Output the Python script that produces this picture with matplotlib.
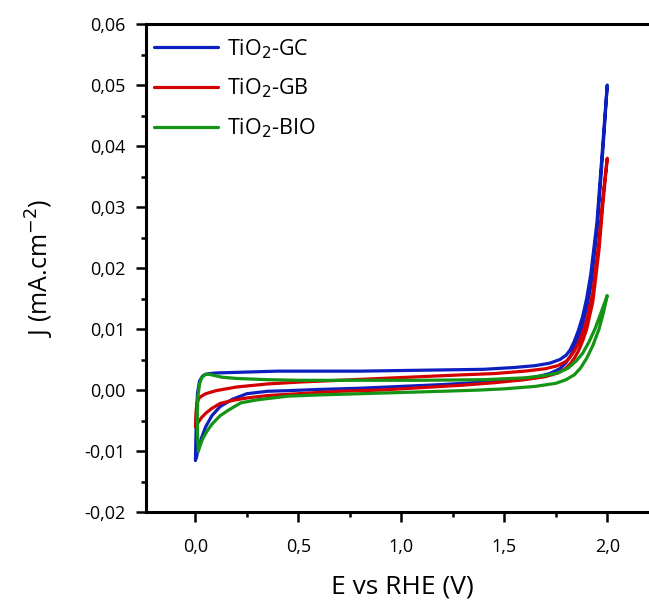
import matplotlib
matplotlib.use('Agg')
import matplotlib.pyplot as plt
from matplotlib.ticker import MultipleLocator, FuncFormatter

plt.rcParams['font.family'] = ['Open Sans', 'DejaVu Sans']

# TiO2-GC (forward scan then return scan)
gc_E_fwd = [0.0, 0.002, 0.005, 0.01, 0.02, 0.035, 0.05, 0.07, 0.1, 0.2, 0.4, 0.6, 0.8, 1.0, 1.2, 1.4,
            1.55, 1.65, 1.72, 1.77, 1.8, 1.82, 1.84, 1.86, 1.88, 1.9, 1.92, 1.95, 1.98, 2.0]
gc_J_fwd = [-0.0115, -0.008, -0.004, -0.0005, 0.0015, 0.0023, 0.0026, 0.0027, 0.0028, 0.0029, 0.0031, 0.0031,
            0.0031, 0.0032, 0.0033, 0.0034, 0.0037, 0.0040, 0.0044, 0.0050, 0.0057, 0.0066, 0.0080, 0.0098,
            0.0120, 0.0150, 0.0190, 0.0275, 0.0410, 0.0500]
gc_E_rev = [2.0, 1.98, 1.95, 1.92, 1.9, 1.88, 1.86, 1.84, 1.82, 1.8, 1.77, 1.72, 1.65, 1.55, 1.4, 1.2, 1.0,
            0.8, 0.6, 0.45, 0.35, 0.25, 0.18, 0.12, 0.08, 0.05, 0.03, 0.015, 0.005, 0.0]
gc_J_rev = [0.0500, 0.0400, 0.0260, 0.0170, 0.0135, 0.0108, 0.0086, 0.0068, 0.0055, 0.0045, 0.0035, 0.0027,
            0.0021, 0.0017, 0.0013, 0.0009, 0.0006, 0.0003, 0.0001, -0.0001, -0.0002, -0.0006, -0.0015,
            -0.0027, -0.0042, -0.0060, -0.0078, -0.0095, -0.0110, -0.0115]

# TiO2-GB
gb_E_fwd = [0.0, 0.003, 0.008, 0.02, 0.05, 0.1, 0.2, 0.35, 0.5, 0.7, 0.9, 1.1, 1.3, 1.45, 1.6, 1.7, 1.76,
            1.8, 1.82, 1.84, 1.86, 1.88, 1.9, 1.93, 1.96, 1.98, 2.0]
gb_J_fwd = [-0.006, -0.0035, -0.0020, -0.0012, -0.0006, -0.0001, 0.0005, 0.0010, 0.0013, 0.0016, 0.0019,
            0.0022, 0.0025, 0.0027, 0.0031, 0.0035, 0.0040, 0.0047, 0.0054, 0.0064, 0.0077, 0.0093, 0.0114,
            0.0160, 0.0245, 0.0320, 0.0380]
gb_E_rev = [2.0, 1.98, 1.96, 1.93, 1.9, 1.88, 1.86, 1.84, 1.82, 1.8, 1.76, 1.7, 1.6, 1.45, 1.3, 1.1, 0.9,
            0.7, 0.5, 0.35, 0.25, 0.18, 0.12, 0.08, 0.05, 0.03, 0.015, 0.005, 0.0]
gb_J_rev = [0.0380, 0.0310, 0.0230, 0.0145, 0.0100, 0.0080, 0.0064, 0.0052, 0.0043, 0.0036, 0.0028, 0.0022,
            0.0017, 0.0012, 0.0008, 0.0004, 0.0000, -0.0002, -0.0006, -0.0009, -0.0013, -0.0017, -0.0022,
            -0.0030, -0.0038, -0.0045, -0.0052, -0.0058, -0.0060]

# TiO2-BIO
bio_E_fwd = [0.014, 0.010, 0.009, 0.012, 0.02, 0.03, 0.045, 0.065, 0.09, 0.13, 0.2, 0.35, 0.5, 0.8, 1.1,
             1.4, 1.6, 1.7, 1.76, 1.81, 1.85, 1.88, 1.91, 1.94, 1.97, 2.0]
bio_J_fwd = [-0.0100, -0.0070, -0.0040, -0.0010, 0.0010, 0.0020, 0.0025, 0.0026, 0.0024, 0.0021, 0.0019,
             0.0017, 0.0016, 0.0016, 0.0016, 0.0017, 0.0020, 0.0024, 0.0028, 0.0036, 0.0048, 0.0060, 0.0078,
             0.0100, 0.0127, 0.0155]
bio_E_rev = [2.0, 1.98, 1.96, 1.93, 1.9, 1.87, 1.84, 1.8, 1.75, 1.65, 1.5, 1.38, 1.2, 1.0, 0.8, 0.6, 0.45,
             0.3, 0.22, 0.16, 0.12, 0.08, 0.055, 0.035, 0.022, 0.014]
bio_J_rev = [0.0155, 0.0125, 0.0100, 0.0073, 0.0052, 0.0036, 0.0025, 0.0017, 0.0011, 0.0006, 0.0002, 0.0000,
             -0.0002, -0.0004, -0.0006, -0.0008, -0.0010, -0.0016, -0.0021, -0.0033, -0.0042, -0.0056,
             -0.0068, -0.0080, -0.0092, -0.0100]

labels = ['TiO$_2$-GC', 'TiO$_2$-GB', 'TiO$_2$-BIO']
colors = ['#0D1FBF', '#D40000', '#149414']

fig = plt.figure(figsize=(6.49, 6.01), dpi=100)
ax = fig.add_axes([0.225, 0.148, 0.79, 0.812])

series = [(gc_E_fwd + gc_E_rev, gc_J_fwd + gc_J_rev),
          (gb_E_fwd + gb_E_rev, gb_J_fwd + gb_J_rev),
          (bio_E_fwd + bio_E_rev, bio_J_fwd + bio_J_rev)]
for (E, J), lab, c in zip(series, labels, colors):
    ax.plot(E, J, color=c, lw=2.3, label=lab, solid_capstyle='round')

ax.set_xlim(-0.24, 2.25)
ax.set_ylim(-0.02, 0.06)
ax.xaxis.set_major_locator(MultipleLocator(0.5))
ax.xaxis.set_minor_locator(MultipleLocator(0.25))
ax.yaxis.set_major_locator(MultipleLocator(0.01))
ax.yaxis.set_minor_locator(MultipleLocator(0.005))
ax.xaxis.set_major_formatter(FuncFormatter(lambda v, p: f'{v:.1f}'.replace('.', ',')))
ax.yaxis.set_major_formatter(FuncFormatter(lambda v, p: f'{v:.2f}'.replace('.', ',').replace('-0,00', '0,00')))

for s in ax.spines.values():
    s.set_linewidth(2.2)
ax.tick_params(which='major', direction='out', length=7, width=1.8, labelsize=13, pad=8)
ax.tick_params(which='minor', direction='out', length=3.5, width=1.8)
ax.tick_params(axis='x', pad=12)

ax.set_xlabel('E vs RHE (V)', fontsize=19, labelpad=13)
ax.set_ylabel('J (mA.cm$^{-2}$)', fontsize=18, labelpad=20)

ax.legend(loc='upper left', bbox_to_anchor=(-0.01, 1.0), frameon=False, fontsize=15.5,
          handlelength=3.0, labelspacing=0.75, borderaxespad=0.2, handletextpad=0.4)

fig.savefig('out.png', dpi=100)
